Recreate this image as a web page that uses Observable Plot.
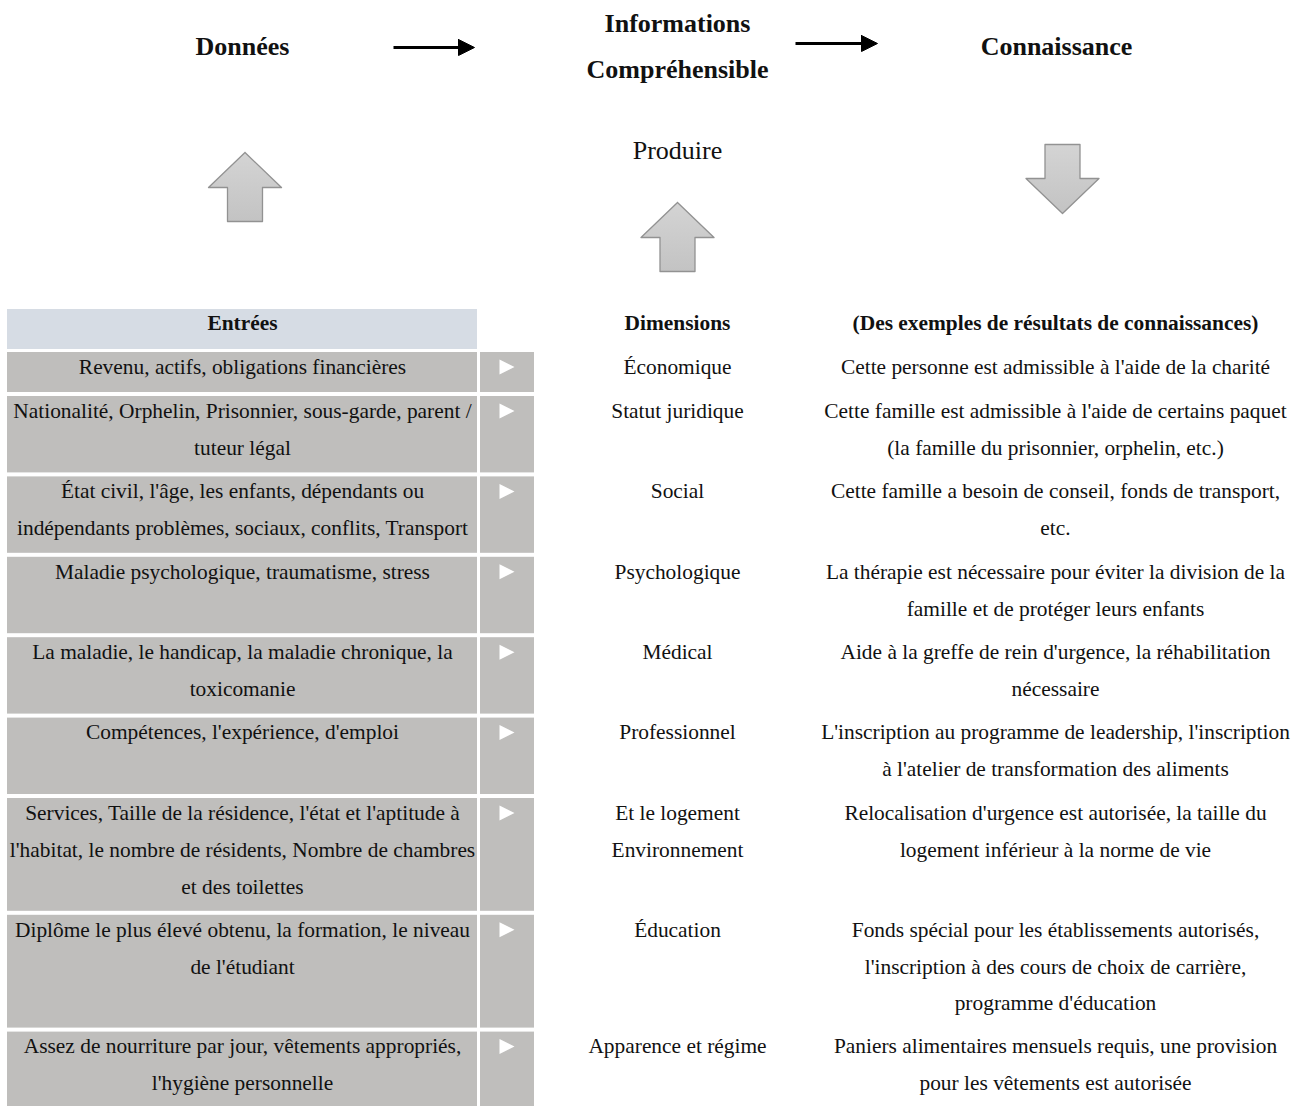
<!DOCTYPE html>
<html><head><meta charset="utf-8">
<script src="https://cdn.jsdelivr.net/npm/d3@7"></script>
<script src="https://cdn.jsdelivr.net/npm/@observablehq/plot@0.6"></script>
<style>body{margin:0;background:#fff;}</style>
</head><body><div id="chart"></div>
<script>
// ---- content ----
const stages = ["Données", "Informations\nCompréhensible", "Connaissance"];
const verb = "Produire";
const headers = ["Entrées", "Dimensions", "(Des exemples de résultats de connaissances)"];
const inputs = [
  "Revenu, actifs, obligations financières",
  "Nationalité, Orphelin, Prisonnier, sous-garde, parent /\ntuteur légal",
  "État civil, l'âge, les enfants, dépendants ou\nindépendants problèmes, sociaux, conflits, Transport",
  "Maladie psychologique, traumatisme, stress",
  "La maladie, le handicap, la maladie chronique, la\ntoxicomanie",
  "Compétences, l'expérience, d'emploi",
  "Services, Taille de la résidence, l'état et l'aptitude à\nl'habitat, le nombre de résidents, Nombre de chambres\net des toilettes",
  "Diplôme le plus élevé obtenu, la formation, le niveau\nde l'étudiant",
  "Assez de nourriture par jour, vêtements appropriés,\nl'hygiène personnelle"
];
const dimensions = [
  "Économique", "Statut juridique", "Social", "Psychologique", "Médical",
  "Professionnel", "Et le logement\nEnvironnement", "Éducation", "Apparence et régime"
];
const outcomes = [
  "Cette personne est admissible à l'aide de la charité",
  "Cette famille est admissible à l'aide de certains paquet\n(la famille du prisonnier, orphelin, etc.)",
  "Cette famille a besoin de conseil, fonds de transport,\netc.",
  "La thérapie est nécessaire pour éviter la division de la\nfamille et de protéger leurs enfants",
  "Aide à la greffe de rein d'urgence, la réhabilitation\nnécessaire",
  "L'inscription au programme de leadership, l'inscription\nà l'atelier de transformation des aliments",
  "Relocalisation d'urgence est autorisée, la taille du\nlogement inférieur à la norme de vie",
  "Fonds spécial pour les établissements autorisés,\nl'inscription à des cours de choix de carrière,\nprogramme d'éducation",
  "Paniers alimentaires mensuels requis, une provision\npour les vêtements est autorisée"
];

// ---- layout ----
const W = 1306, H = 1106;
const FONT = "Liberation Serif, DejaVu Serif, serif";
const colX = [242, 677, 1055];
const stageX = [242, 677, 1056], stageY = 46, stageLine = 46;
const leftBox = [7, 477], sideBox = [480, 534];
const headerBox = [309, 349], headerTextY = 323;
const tableTop = 352, rowLine = 36.4, rowPad = 7.6, gap = 4, firstLine = 14.5, textLine = 36.9;

// stage title lines
const stageLines = [];
stages.forEach((s, i) => {
  const parts = s.split("\n");
  parts.forEach((p, j) => stageLines.push({x: stageX[i], y: stageY + (j - (parts.length - 1) / 2) * stageLine, text: p}));
});

// rows
const rows = [];
let rowTop = tableTop;
inputs.forEach((t, i) => {
  const cells = [t, dimensions[i], outcomes[i]].map(s => s.split("\n"));
  const n = Math.max(...cells.map(c => c.length));
  const step = rowPad + rowLine * n;
  rows.push({i, top: rowTop, bottom: rowTop + step - gap, cells});
  rowTop += step;
});

const lines = [];
rows.forEach(r => r.cells.forEach((c, ci) => c.forEach((s, li) => {
  lines.push({x: colX[ci], y: r.top + firstLine + li * textLine, text: s});
})));

// white marker triangles
const tri = [];
rows.forEach(r => {
  const cy = r.top + firstLine;
  [[499, cy - 7.5], [514, cy], [499, cy + 7.5], [499, cy - 7.5]].forEach(([x, y]) => tri.push({id: r.i, x, y}));
});

// block arrows
const blocks = [
  {id: 0, cx: 244.5, a: 152, b: 221, dir: 1},
  {id: 1, cx: 677, a: 202, b: 271, dir: 1},
  {id: 2, cx: 1062, a: 213, b: 144, dir: -1}
];
const blockPts = [];
blocks.forEach(({id, cx, a, b, dir}) => {
  const hy = a + dir * 35;
  [[cx, a], [cx + 36.5, hy], [cx + 17.5, hy], [cx + 17.5, b], [cx - 17.5, b], [cx - 17.5, hy], [cx - 36.5, hy], [cx, a]]
    .forEach(([x, y]) => blockPts.push({id, x, y}));
});

// black connector arrows
const connectors = [{x1: 393, x2: 474, y: 47}, {x1: 795, x2: 877, y: 43}];
const heads = [];
connectors.forEach((c, i) => {
  [[c.x2 - 16, c.y - 8], [c.x2, c.y], [c.x2 - 16, c.y + 8], [c.x2 - 16, c.y - 8]].forEach(([x, y]) => heads.push({id: i, x, y}));
});

const txt = (data, opts) => Plot.text(data, {x: "x", y: "y", text: "text", fontFamily: FONT, fill: "#111", textAnchor: "middle", lineAnchor: "middle", ...opts});

const plot = Plot.plot({
  width: W, height: H, margin: 0,
  x: {type: "identity", axis: null},
  y: {type: "identity", axis: null},
  style: {fontFamily: FONT, background: "#fff"},
  marks: [
    // stage titles
    txt(stageLines, {fontSize: 26, fontWeight: "bold"}),
    txt([{x: colX[1], y: 150, text: verb}], {fontSize: 26}),
    // connectors
    Plot.link(connectors, {x1: "x1", x2: d => d.x2 - 14, y1: "y", y2: "y", stroke: "#000", strokeWidth: 3}),
    Plot.line(heads, {x: "x", y: "y", z: "id", fill: "#000", stroke: "#000", strokeWidth: 1}),
    // block arrows
    Plot.line(blockPts, {x: "x", y: "y", z: "id", fill: "url(#blockGrad)", stroke: "#929292", strokeWidth: 1.3, curve: "linear"}),
    // table
    Plot.rect([{}], {x1: leftBox[0], x2: leftBox[1], y1: headerBox[0], y2: headerBox[1], fill: "#d6dce4"}),
    Plot.rect(rows, {x1: leftBox[0], x2: leftBox[1], y1: "top", y2: "bottom", fill: "#bfbebc"}),
    Plot.rect(rows, {x1: sideBox[0], x2: sideBox[1], y1: "top", y2: "bottom", fill: "#bfbebc"}),
    Plot.line(tri, {x: "x", y: "y", z: "id", fill: "#fff", stroke: null}),
    txt(headers.map((h, i) => ({x: colX[i], y: headerTextY, text: h})), {fontSize: 21.4, fontWeight: "bold"}),
    txt(lines, {fontSize: 21.4})
  ]
});

d3.select(plot).insert("defs", ":first-child").html(
  '<linearGradient id="blockGrad" x1="0" y1="0" x2="0" y2="1">' +
  '<stop offset="0" stop-color="#d4d4d4"/><stop offset="1" stop-color="#c3c3c3"/></linearGradient>'
);
document.getElementById("chart").appendChild(plot);
</script>
</body></html>
